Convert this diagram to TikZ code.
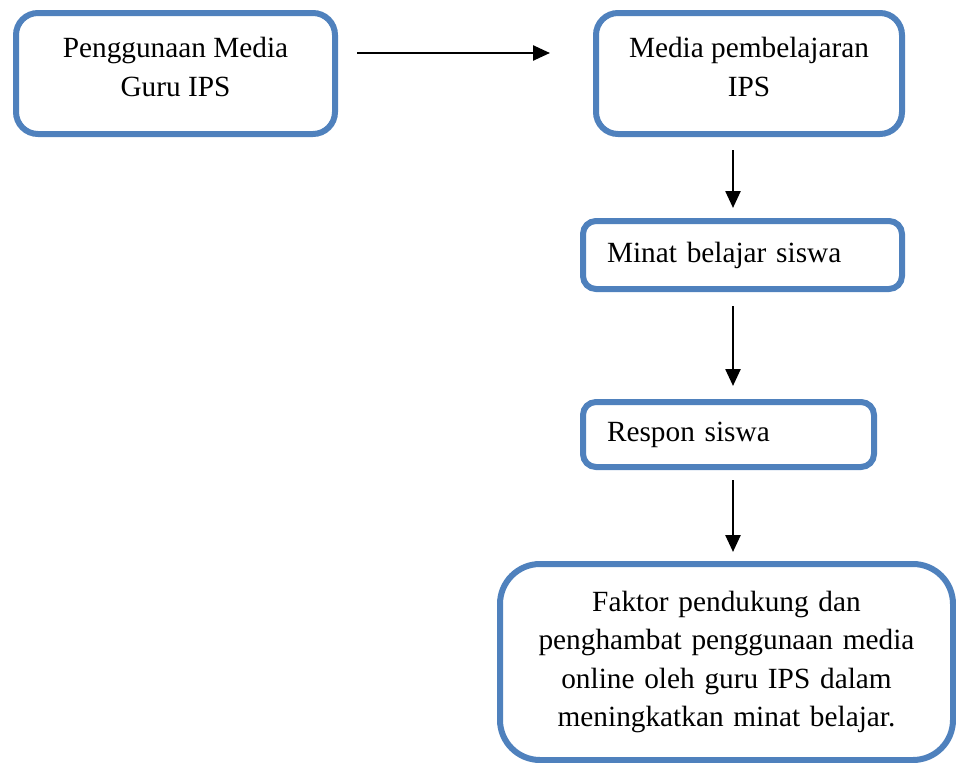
\documentclass[tikz,border=0pt]{standalone}
\usepackage{fontspec}
\setmainfont{Liberation Serif}
\usetikzlibrary{arrows.meta}
\definecolor{boxblue}{HTML}{4F81BD}
\begin{document}
\begin{tikzpicture}[x=1pt,y=-1pt,
  box/.style={draw=boxblue, line width=6pt, fill=white, outer sep=0pt, inner sep=0pt,
    font=\fontsize{29.3}{38.5}\selectfont},
  arr/.style={draw=black, line width=2.5pt, -{Triangle[length=17pt,width=15pt]}}]
\useasboundingbox (0,0) rectangle (956,763);
\node[box, rounded corners=22pt, minimum width=319pt, minimum height=121pt, align=center]
  (b1) at (175.5,73.5) {Penggunaan Media\\Guru IPS\rule[-13pt]{0pt}{13pt}};
\node[box, rounded corners=22pt, minimum width=306pt, minimum height=121pt, align=center]
  (b2) at (749,73.5) {Media pembelajaran\\IPS\rule[-13pt]{0pt}{13pt}};
\node[box, rounded corners=13pt, minimum width=319pt, minimum height=68pt, inner xsep=24pt,
  text width=271pt, align=left] (b3) at (742.5,255) {Minat belajar siswa};
\node[box, rounded corners=13pt, minimum width=291pt, minimum height=65pt, inner xsep=24pt,
  text width=243pt, align=left] (b4) at (728.5,434.5) {Respon siswa};
\node[box, rounded corners=40pt, minimum width=453pt, minimum height=196pt,
  text width=420pt, align=center] (b5) at (726.5,662)
  {Faktor pendukung dan\\penghambat penggunaan media\\online oleh guru IPS dalam\\meningkatkan minat belajar.};
\draw[arr, shorten <=22pt, shorten >=46pt] ([yshift=20.5pt]b1.east) -- ([yshift=20.5pt]b2.west);
\draw[arr, shorten <=16pt, shorten >=13pt] ([xshift=-16pt]b2.south) -- ([xshift=-9.5pt]b3.north);
\draw[arr, shorten <=17pt, shorten >=16pt] ([xshift=-9.5pt]b3.south) -- ([xshift=4.5pt]b4.north);
\draw[arr, shorten <=13pt, shorten >=12pt] ([xshift=4.5pt]b4.south) -- ([xshift=6.5pt]b5.north);
\end{tikzpicture}
\end{document}
